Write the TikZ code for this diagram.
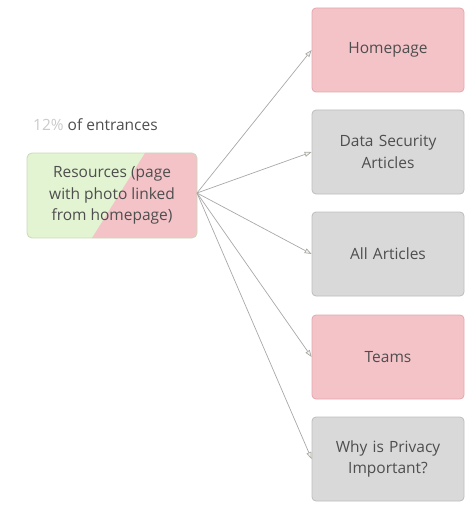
\documentclass[tikz,border=0pt]{standalone}
\usepackage{fontspec}
\setmainfont{Open Sans}
\usetikzlibrary{arrows.meta}
\definecolor{pinkfill}{HTML}{F4C3C8}
\definecolor{pinkline}{HTML}{E3A7AE}
\definecolor{greyfill}{HTML}{D9D9D9}
\definecolor{greyline}{HTML}{BDBDBD}
\definecolor{greenfill}{HTML}{E3F4D2}
\definecolor{greenline}{HTML}{C9D9B8}
\definecolor{txt}{HTML}{4E4E4E}
\definecolor{wire}{HTML}{A8A8A8}
\tikzset{
  label font/.style={font=\fontsize{15.5}{21.5}\selectfont},
  page/.style={draw, rounded corners=4pt, line width=0.8pt, minimum width=152pt,
    minimum height=84pt, align=center, text width=146pt, label font,
    text=txt, inner sep=0pt},
  pinkpage/.style={page, fill=pinkfill, draw=pinkline},
  greypage/.style={page, fill=greyfill, draw=greyline},
  link/.style={draw=wire, line width=0.7pt,
    -{Triangle[open, length=7pt, width=5pt, fill=greenfill!60]}},
}
\begin{document}
\begin{tikzpicture}[x=1pt, y=-1pt]
  \useasboundingbox (0,0) rectangle (464,505);
  % target pages
  \node[pinkpage] (home) at (388,50) {Homepage};
  \node[greypage] (sec)  at (388,152) {Data Security\\Articles};
  \node[greypage] (all)  at (388,254) {All Articles};
  \node[pinkpage] (team) at (388,357) {Teams};
  \node[greypage] (why)  at (388,459) {Why is Privacy\\Important?};
  % entry page, split green / pink
  \begin{scope}
    \clip[rounded corners=5pt] (27,153) rectangle (197,238);
    \fill[greenfill] (27,153) rectangle (197,238);
    \fill[pinkfill] (145,153) -- (197,153) -- (197,238) -- (92,238) -- cycle;
  \end{scope}
  \node[draw=greenline, rounded corners=5pt, line width=0.8pt, minimum width=170pt,
    minimum height=85pt, align=center, text=txt, inner sep=0pt,
    label font] (res) at (112,195.5)
    {Resources (page\\with photo linked\\from homepage)};
  \node[anchor=west, text=txt, label font, inner sep=0pt] (lbl) at (33,125)
    {\textcolor{txt!30}{12\%} of entrances};
  \coordinate (src) at (197,193);
  \foreach \t in {home,sec,all,team,why}
    \draw[link] (src) -- (\t.west);
\end{tikzpicture}
\end{document}
